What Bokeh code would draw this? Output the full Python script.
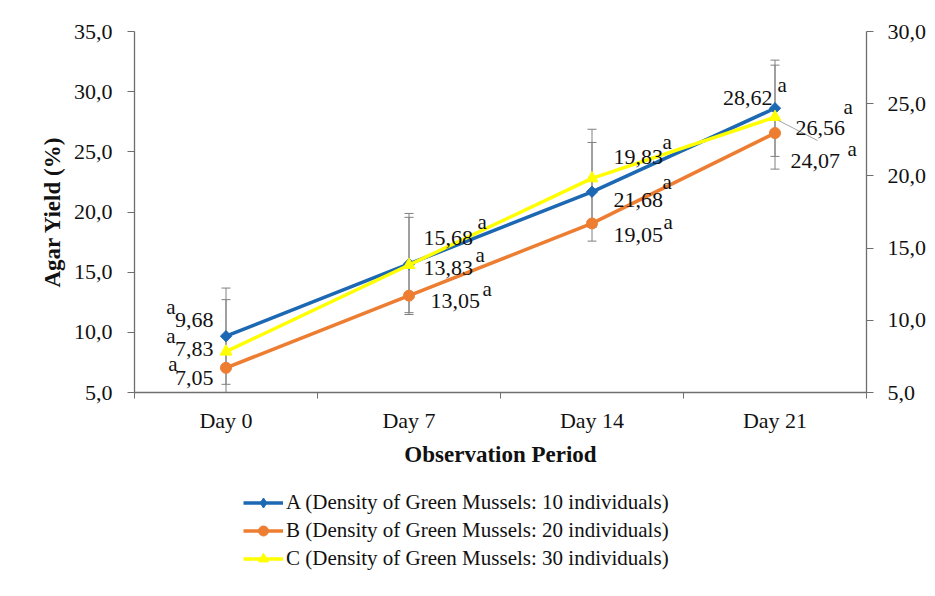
import math
from bokeh.plotting import figure
from bokeh.layouts import column
from bokeh.models import Range1d, LinearAxis, FixedTicker, Legend, LegendItem
from bokeh.core.properties import value
from bokeh.embed import file_html
from bokeh.resources import INLINE

# ---------------- data ----------------
days = ["Day 0", "Day 7", "Day 14", "Day 21"]
names = [
    "A (Density of Green Mussels: 10 individuals)",
    "B (Density of Green Mussels: 20 individuals)",
    "C (Density of Green Mussels: 30 individuals)",
]
yield_a = [9.68, 15.68, 21.68, 28.62]
yield_b = [7.05, 13.05, 19.05, 26.56]
yield_c = [7.83, 13.83, 19.83, 24.07]   # plotted on the secondary axis
err_a = [4.0, 4.2, 4.1, 4.0]
err_c = [3.6, 3.3, 3.4, 3.6]
letters_a = ["a", "a", "a", "a"]
letters_b = ["a", "a", "a", "a"]
letters_c = ["a", "a", "a", "a"]
left_ticks = [5, 10, 15, 20, 25, 30, 35]
right_ticks = [5, 10, 15, 20, 25, 30]

# ---------------- style ----------------
BLUE = "#1C68B3"
ORANGE = "#ED7D31"
YELLOW = "#FFFF00"
GRAY = "#808080"
AXIS = "#6E6E6E"
FONT = "Liberation Serif"
TXT = "#111111"

xs = list(range(len(days)))

p = figure(width=935, height=475, output_backend="svg", toolbar_location=None,
           x_range=Range1d(-0.5, 3.5), y_range=Range1d(5, 35),
           x_axis_type=None, y_axis_type=None,
           min_border_left=134, min_border_right=69,
           min_border_top=31, min_border_bottom=83)
p.extra_y_ranges = {"right": Range1d(5, 30)}
p.outline_line_color = None
p.background_fill_color = "white"
p.border_fill_color = "white"


def fmt(v, d):
    return f"{v:.{d}f}".replace(".", ",")


def style_axis(ax):
    ax.axis_line_color = AXIS
    ax.axis_line_width = 1.3
    ax.major_tick_line_color = AXIS
    ax.minor_tick_line_color = AXIS
    ax.major_label_text_font = FONT
    ax.major_label_text_font_size = "22px"
    ax.major_label_text_color = TXT
    ax.axis_label_text_font = FONT
    ax.axis_label_text_font_size = "23px"
    ax.axis_label_text_font_style = "bold"
    ax.axis_label_text_color = TXT


xaxis = LinearAxis(ticker=FixedTicker(ticks=xs, minor_ticks=[-0.5, 0.5, 1.5, 2.5, 3.5]),
                   major_label_overrides={i: d for i, d in enumerate(days)},
                   axis_label="Observation Period")
style_axis(xaxis)
xaxis.major_tick_in = 0
xaxis.major_tick_out = 0
xaxis.minor_tick_in = 0
xaxis.minor_tick_out = 6
xaxis.major_label_standoff = 9
xaxis.axis_label_standoff = 6
p.add_layout(xaxis, "below")

laxis = LinearAxis(ticker=FixedTicker(ticks=left_ticks, minor_ticks=[]),
                   major_label_overrides={t: fmt(t, 1) for t in left_ticks},
                   axis_label="Agar Yield (%)")
style_axis(laxis)
laxis.major_tick_in = 0
laxis.major_tick_out = 7
laxis.major_label_standoff = 15
laxis.axis_label_standoff = 6
p.add_layout(laxis, "left")

raxis = LinearAxis(y_range_name="right",
                   ticker=FixedTicker(ticks=right_ticks, minor_ticks=[]),
                   major_label_overrides={t: fmt(t, 1) for t in right_ticks})
style_axis(raxis)
raxis.major_tick_in = 0
raxis.major_tick_out = 7
raxis.major_label_standoff = 14
p.add_layout(raxis, "right")

# ---------------- error bars ----------------
def error_bars(vals, errs, rng=None):
    kw = {} if rng is None else {"y_range_name": rng}
    lo = [v - e for v, e in zip(vals, errs)]
    hi = [v + e for v, e in zip(vals, errs)]
    p.segment(x0=xs, y0=lo, x1=xs, y1=hi, line_color=GRAY, line_width=1, **kw)
    p.scatter(xs, hi, marker="dash", size=9, line_color=GRAY, line_width=1, **kw)
    p.scatter(xs, lo, marker="dash", size=9, line_color=GRAY, line_width=1, **kw)


error_bars(yield_a, err_a)
error_bars(yield_c, err_c, "right")

# ---------------- series ----------------
LINE_KW = dict(line_width=3.5)
MARK_A = dict(marker="square", angle=math.pi / 4, size=8, fill_color=BLUE, line_color=BLUE)
MARK_A_LEG = dict(marker="diamond", size=13, fill_color=BLUE, line_color=BLUE)
MARK_B = dict(marker="circle", size=11, fill_color=ORANGE, line_color=ORANGE)
MARK_C = dict(marker="triangle", size=12, fill_color=YELLOW, line_color=YELLOW)

p.line(xs, yield_b, line_color=ORANGE, **LINE_KW)
p.scatter(xs, yield_b, **MARK_B)
p.line(xs, yield_a, line_color=BLUE, **LINE_KW)
p.scatter(xs, yield_a, **MARK_A)
p.line(xs, yield_c, line_color=YELLOW, y_range_name="right", **LINE_KW)
p.scatter(xs, yield_c, y_range_name="right", **MARK_C)

# leader line for the Day 21 label of series C (pixel offsets converted via scales)
px_x = 732 / 4.0
px_r = 361 / 25.0
p.segment(x0=[3 + 3.5 / px_x], y0=[yield_c[3] - 3.4 / px_r],
          x1=[3 + 42.5 / px_x], y1=[yield_c[3] - 23.4 / px_r],
          line_color="#A6A6A6", line_width=1, y_range_name="right")

# ---------------- data labels ----------------
# per point: (number align, dx, dy, letter align, dx, dy) in pixels
off_a = [("right", -12.5, -15.7, "right", -50.5, -28.7),
         ("left", 14.5, -25.5, "left", 68.5, -41.5),
         ("left", 21.5, 8.7, "left", 70.5, -9.3),
         ("right", -2.5, -9.8, "left", 2.5, -22.8)]
off_b = [("right", -12.5, 9.7, "right", -48.5, -4.3),
         ("left", 21.5, 5.0, "left", 73.5, -7.0),
         ("left", 21.5, 12.0, "left", 71.5, -1.0),
         ("left", 20.5, -4.6, "left", 68.5, -25.6)]
off_c = [("right", -12.5, -3.0, "right", -50.5, -16.0),
         ("left", 14.5, 3.5, "left", 66.5, -9.5),
         ("left", 21.5, -21.0, "left", 70.5, -36.0),
         ("left", 15.5, 43.4, "left", 72.5, 31.4)]


def labels(vals, letters, offs, rng=None):
    kw = {} if rng is None else {"y_range_name": rng}
    for i, v in enumerate(vals):
        na, ndx, ndy, la_, ldx, ldy = offs[i]
        p.text(x=[xs[i]], y=[v], text=[fmt(v, 2)], x_offset=ndx, y_offset=ndy,
               text_align=na, text_baseline="alphabetic",
               text_font=value(FONT), text_font_size="22px", text_color=TXT, **kw)
        p.text(x=[xs[i]], y=[v], text=[letters[i]], x_offset=ldx, y_offset=ldy,
               text_align=la_, text_baseline="alphabetic",
               text_font=value(FONT), text_font_size="21px", text_color=TXT, **kw)


labels(yield_a, letters_a, off_a)
labels(yield_b, letters_b, off_b)
labels(yield_c, letters_c, off_c, "right")

# ---------------- legend (separate strip below; series kept out of its view) ----------------
q = figure(width=935, height=121, output_backend="svg", toolbar_location=None,
           x_range=Range1d(-20, -19), y_range=Range1d(-20, -19),
           x_axis_type=None, y_axis_type=None,
           min_border_left=0, min_border_right=0, min_border_top=0, min_border_bottom=0)
q.outline_line_color = None
q.grid.visible = False
q.background_fill_color = "white"
q.border_fill_color = "white"

ka = [q.line(xs, yield_a, line_color=BLUE, **LINE_KW), q.scatter(xs, yield_a, **MARK_A_LEG)]
kb = [q.line(xs, yield_b, line_color=ORANGE, **LINE_KW), q.scatter(xs, yield_b, **MARK_B)]
kc = [q.line(xs, yield_c, line_color=YELLOW, **LINE_KW), q.scatter(xs, yield_c, **MARK_C)]

legend = Legend(items=[LegendItem(label=names[0], renderers=ka),
                       LegendItem(label=names[1], renderers=kb),
                       LegendItem(label=names[2], renderers=kc)],
                location=(109, 25), orientation="vertical",
                glyph_width=40, glyph_height=25, label_height=25,
                label_standoff=3, spacing=3, padding=0, margin=0,
                border_line_color=None, background_fill_alpha=0,
                label_text_font=FONT, label_text_font_size="21px",
                label_text_color=TXT)
q.add_layout(legend, "center")

open("out.html", "w").write(file_html(column(p, q, spacing=0), INLINE))
